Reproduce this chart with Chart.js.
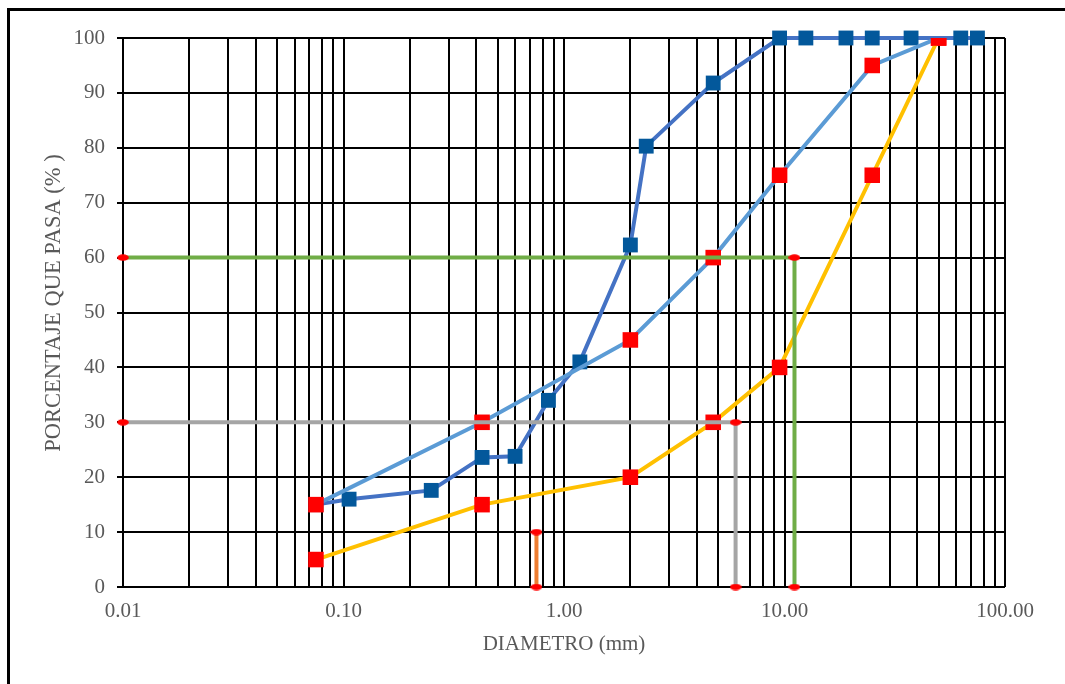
<!DOCTYPE html>
<html>
<head>
<meta charset="utf-8">
<script src="https://cdn.jsdelivr.net/npm/chart.js@4.4.1/dist/chart.umd.min.js"></script>
<style>
  html, body { margin: 0; padding: 0; background: #fff; overflow: hidden; }
  #wrap { position: relative; width: 1065px; height: 684px; }
  #frame { position: absolute; left: 7px; top: 8px; width: 1100px; height: 720px; border: 3px solid #000; box-sizing: border-box; pointer-events: none; }
  canvas { position: absolute; left: 0; top: 0; }
</style>
</head>
<body>
<div id="wrap">
  <canvas id="gran" width="1065" height="684"></canvas>
  <div id="frame"></div>
</div>
<script>
// ---- data ----
const muestraDiam = [0.075, 0.106, 0.25, 0.425, 0.6, 0.85, 1.18, 2.0, 2.36, 4.75, 9.5, 12.5, 19, 25, 37.5, 63, 75];
const muestraPasa = [15, 16, 17.6, 23.6, 23.8, 34, 41, 62.3, 80.3, 91.8, 100, 100, 100, 100, 100, 100, 100];

const limDiam = [0.075, 0.425, 2.0, 4.75, 9.5, 25, 50];
const limSup  = [15, 30, 45, 60, 75, 95, 100];
const limInf  = [5, 15, 20, 30, 40, 75, 100];

const d60 = 11.1, d30 = 6.0, d10 = 0.75;

const xDecades = [0.01, 0.1, 1, 10, 100];
const xLabels  = ["0.01", "0.10", "1.00", "10.00", "100.00"];
const yTicks   = [0, 10, 20, 30, 40, 50, 60, 70, 80, 90, 100];
const yTitle   = "PORCENTAJE QUE PASA (% )";

// ---- helpers ----
const pts = (xs, ys) => xs.map((x, i) => ({ x: x, y: ys[i] }));

// log grid: 1..9 x each decade
const xGrid = [];
xDecades.forEach((d, i) => {
  if (i === xDecades.length - 1) { xGrid.push(d); return; }
  for (let k = 1; k <= 9; k++) xGrid.push(+(d * k).toPrecision(3));
});

// small flat red marker used on the guide lines
const dot = document.createElement("canvas");
dot.width = 12; dot.height = 7;
(function () {
  const c = dot.getContext("2d");
  c.fillStyle = "#FF0000";
  c.beginPath();
  c.ellipse(6, 3.5, 5.8, 3.3, 0, 0, Math.PI * 2);
  c.fill();
})();

const serif = "'Liberation Serif', 'Times New Roman', serif";
const guide = { pointStyle: dot, pointRadius: 5, borderWidth: 4, clip: false };
const square = { pointStyle: "rect", pointBorderWidth: 0, borderWidth: 4 };

// y title drawn by hand so it sits where the reference has it
const yTitlePlugin = {
  id: "yTitle",
  afterDraw(chart) {
    const ctx = chart.ctx;
    ctx.save();
    ctx.translate(54, 303);
    ctx.rotate(-Math.PI / 2);
    ctx.font = "22.5px " + serif;
    ctx.fillStyle = "#595959";
    ctx.textAlign = "center";
    ctx.textBaseline = "middle";
    ctx.fillText(yTitle, 0, 0);
    ctx.restore();
  }
};

new Chart(document.getElementById("gran"), {
  type: "line",
  data: {
    datasets: [
      Object.assign({ label: "D60", data: pts([0.01, d60, d60], [60, 60, 0]), borderColor: "#70AD47" }, guide),
      Object.assign({ label: "D30", data: pts([0.01, d30, d30], [30, 30, 0]), borderColor: "#A5A5A5" }, guide),
      Object.assign({ label: "D10", data: pts([d10, d10], [0, 10]), borderColor: "#ED7D31" }, guide),
      Object.assign({
        label: "Limite inferior", data: pts(limDiam, limInf), borderColor: "#FFC000",
        pointRadius: 11, pointBackgroundColor: "#FF0000", pointBorderColor: "#FF0000"
      }, square),
      Object.assign({
        label: "Limite superior", data: pts(limDiam, limSup), borderColor: "#5B9BD5",
        pointRadius: 11, pointBackgroundColor: "#FF0000", pointBorderColor: "#FF0000"
      }, square),
      Object.assign({
        label: "Muestra", data: pts(muestraDiam, muestraPasa), borderColor: "#4472C4",
        pointRadius: 10.5, pointBackgroundColor: "#03589B", pointBorderColor: "#03589B", clip: false
      }, square)
    ]
  },
  plugins: [yTitlePlugin],
  options: {
    responsive: false,
    animation: false,
    events: [],
    layout: { padding: { left: 0, top: 38, right: 60, bottom: 0 } },
    plugins: { legend: { display: false }, tooltip: { enabled: false } },
    elements: { line: { tension: 0 } },
    scales: {
      x: {
        type: "logarithmic",
        min: 0.01, max: 100,
        afterBuildTicks: s => { s.ticks = xGrid.map(v => ({ value: v })); },
        afterFit: s => { s.height = 97; },
        ticks: {
          autoSkip: false, maxRotation: 0, padding: 12,
          color: "#595959",
          font: { family: serif, size: 21 },
          callback: v => { const i = xDecades.indexOf(v); return i >= 0 ? xLabels[i] : ""; }
        },
        grid: { color: "#000", lineWidth: 2, drawTicks: false },
        border: { display: false },
        title: {
          display: true, text: "DIAMETRO (mm)", color: "#595959",
          font: { family: serif, size: 21 }, padding: { top: 0, bottom: 27 }
        }
      },
      y: {
        min: 0, max: 100,
        afterBuildTicks: s => { s.ticks = yTicks.map(v => ({ value: v })); },
        afterFit: s => { s.width = 123; },
        ticks: {
          padding: 12, color: "#595959",
          font: { family: serif, size: 21 }
        },
        grid: { color: "#000", lineWidth: 2, tickLength: 6 },
        border: { display: false }
      }
    }
  }
});
</script>
</body>
</html>
